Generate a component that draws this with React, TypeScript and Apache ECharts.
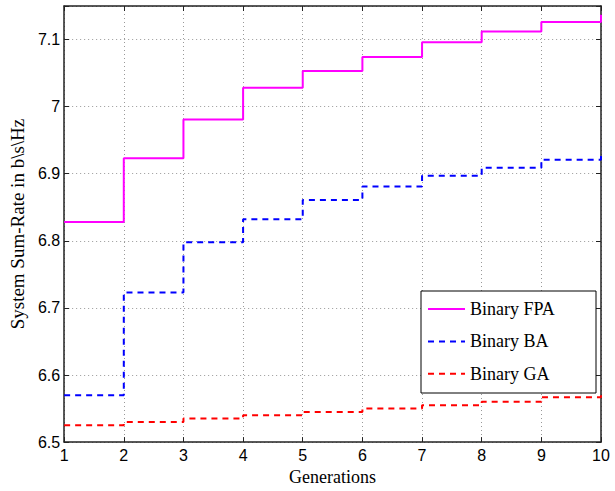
import React, { useEffect, useRef } from "react";
import * as echarts from "echarts";

const generations = [1, 2, 3, 4, 5, 6, 7, 8, 9, 10];
const binaryFPA = [6.828, 6.923, 6.981, 7.028, 7.053, 7.074, 7.096, 7.112, 7.126, 7.137];
const binaryBA = [6.570, 6.723, 6.798, 6.832, 6.861, 6.881, 6.897, 6.909, 6.921, 6.934];
const binaryGA = [6.525, 6.530, 6.535, 6.540, 6.545, 6.550, 6.555, 6.560, 6.567, 6.573];
const seriesNames = ["Binary FPA", "Binary BA", "Binary GA"];
const yTicks = [6.5, 6.6, 6.7, 6.8, 6.9, 7, 7.1];

const SERIF = "'Liberation Serif', 'Times New Roman', serif";
const SANS = "'Liberation Sans', Arial, sans-serif";

export default function App() {
  const ref = useRef<HTMLDivElement>(null);
  useEffect(() => {
    if (!ref.current) return;
    const chart = echarts.init(ref.current, undefined, { renderer: "svg" });
    const axisLine = { show: true, lineStyle: { color: "#222", width: 1.5 } };
    const tick = { show: true, inside: true, length: 5, lineStyle: { color: "#222", width: 1 } };
    const grid = { show: true, lineStyle: { color: "#999", type: [1, 3] as any, width: 1 } };
    const fmtY = (v: number) => {
      const hit = yTicks.find((t) => Math.abs(t - v) < 1e-6);
      return hit === undefined ? "" : String(hit);
    };
    const mk = (vals: number[]) => generations.map((g, i) => [g, vals[i]]);
    chart.setOption({
      animation: false,
      backgroundColor: "#fff",
      grid: { left: 58, right: 14, top: 6, bottom: 41, containLabel: false },
      xAxis: [
        {
          type: "value", min: 1, max: 10, interval: 1, position: "bottom",
          axisLine, axisTick: tick, splitLine: grid,
          axisLabel: { color: "#000", fontFamily: SANS, fontSize: 16, margin: 5 },
          name: "Generations", nameLocation: "middle", nameGap: 21,
          nameTextStyle: { color: "#000", fontFamily: SERIF, fontSize: 18 },
        },
        {
          type: "value", min: 1, max: 10, interval: 1, position: "top",
          axisLine, axisTick: tick, splitLine: { show: false }, axisLabel: { show: false },
        },
      ],
      yAxis: [
        {
          type: "value", min: 6.5, max: 7.15, interval: 0.1, position: "left",
          axisLine, axisTick: tick, splitLine: grid,
          axisLabel: { color: "#000", fontFamily: SANS, fontSize: 16, margin: 4, formatter: fmtY },
          name: "System Sum-Rate in b\\s\\Hz", nameLocation: "middle", nameGap: 29,
          nameTextStyle: { color: "#000", fontFamily: SERIF, fontSize: 19 },
        },
        {
          type: "value", min: 6.5, max: 7.15, interval: 0.1, position: "right",
          axisLine, axisTick: tick, splitLine: { show: false }, axisLabel: { show: false },
        },
      ],
      legend: {
        orient: "vertical", left: 427, top: 299, padding: 0,
        itemWidth: 37, itemHeight: 14, itemGap: 12.4, z: 20,
        itemStyle: { opacity: 0 },
        textStyle: { color: "#000", fontFamily: SERIF, fontSize: 18, lineHeight: 20 },
        data: seriesNames,
      },
      graphic: [
        {
          type: "rect", z: 15,
          shape: { x: 421, y: 291, width: 175, height: 102 },
          style: { fill: "#fff", stroke: "#000", lineWidth: 1 },
        },
      ],
      series: [
        {
          name: seriesNames[0], type: "line", step: "end", symbol: "none", showSymbol: false,
          lineStyle: { color: "#ff00ff", width: 2, type: "solid" }, itemStyle: { color: "#ff00ff" },
          data: mk(binaryFPA),
        },
        {
          name: seriesNames[1], type: "line", step: "end", symbol: "none", showSymbol: false,
          lineStyle: { color: "#0000ff", width: 2, type: [6, 5] as any }, itemStyle: { color: "#0000ff" },
          data: mk(binaryBA),
        },
        {
          name: seriesNames[2], type: "line", step: "end", symbol: "none", showSymbol: false,
          lineStyle: { color: "#ff0000", width: 2, type: [6, 5] as any }, itemStyle: { color: "#ff0000" },
          data: mk(binaryGA),
        },
      ],
    });
    return () => chart.dispose();
  }, []);
  return (
    <div
      ref={ref}
      style={{ position: "fixed", left: 0, top: 0, width: 615, height: 491, background: "#fff" }}
    />
  );
}
